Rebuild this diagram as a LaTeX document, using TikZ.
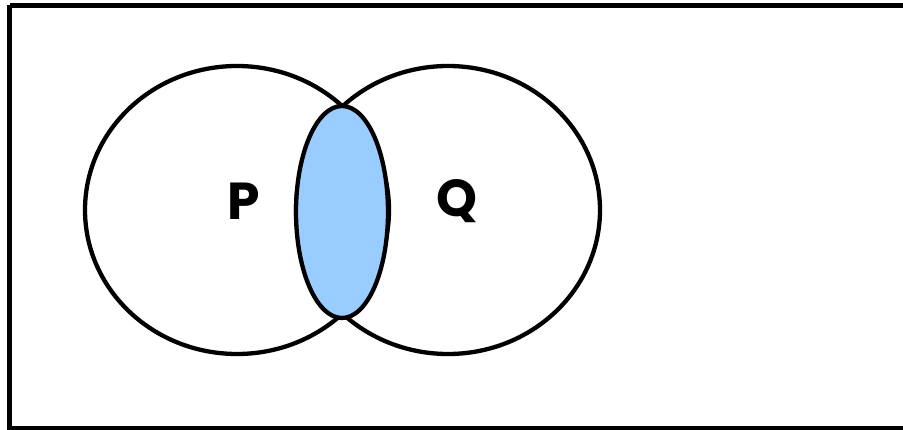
\documentclass[tikz,border=0pt]{standalone}
\usepackage{fontspec}
\setmainfont{TeX Gyre Heros}
\newfontfamily\labelfont{Poppins}
\usepackage{xcolor}
\usepackage{tikz}
\usetikzlibrary{positioning}
\definecolor{lensblue}{HTML}{99CCFF}

\begin{document}
\begin{tikzpicture}[x=1pt, y=-1pt,
	setline/.style={line width=4.3pt, black},
	setlabel/.style={font=\labelfont\fontsize{52}{52}\selectfont\bfseries}]
	\useasboundingbox (0,0) rectangle (903,430);
	\draw[line width=5pt] (9.5,5.5) -- (915,5.5) (915,428.5) -- (9.5,428.5) -- (9.5,5.5);
	\draw[setline] (237,210) ellipse [x radius=152, y radius=144];
	\draw[setline] (448,210) ellipse [x radius=152, y radius=144];
	\draw[setline, fill=lensblue] (342,212) ellipse [x radius=46, y radius=106];
	\node[setlabel] (P) at (244,201) {P};
	\node[setlabel] (Q) at (457,201) {Q};
\end{tikzpicture}
\end{document}
